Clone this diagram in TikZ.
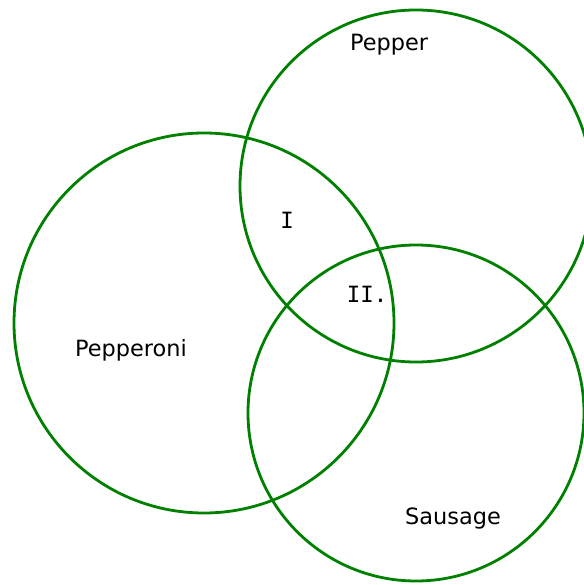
\documentclass[tikz,border=0pt]{standalone}
\usepackage{fontspec}
\setmainfont{DejaVu Sans}
\newfontfamily\romnum{DejaVu Sans Mono}
\definecolor{venngreen}{RGB}{0,128,0}
\begin{document}
\begin{tikzpicture}[x=1bp,y=-1bp,
  ring/.style={circle,draw=venngreen,line width=2.8bp,inner sep=0pt},
  lbl/.style={font=\fontsize{22.5}{26}\selectfont,text=black,inner sep=0pt},
  numlbl/.style={font=\fontsize{22.5}{26}\selectfont\romnum,text=black,inner sep=0pt}]
\useasboundingbox (0,0) rectangle (584,585);
\node[ring,minimum size=380bp] (pepperoni) at (204,323) {};
\node[ring,minimum size=352bp] (pepper) at (416,186) {};
\node[ring,minimum size=336bp] (sausage) at (416,413) {};
\node[lbl] (tPepper) at (389,45) {Pepper};
\node[lbl] (tPepperoni) at (131,350) {Pepperoni};
\node[lbl] (tSausage) at (453,519) {Sausage};
\node[numlbl] (tI) at (287,220) {I};
\node[numlbl] (tII) at (367,294) {II.};
\end{tikzpicture}
\end{document}
